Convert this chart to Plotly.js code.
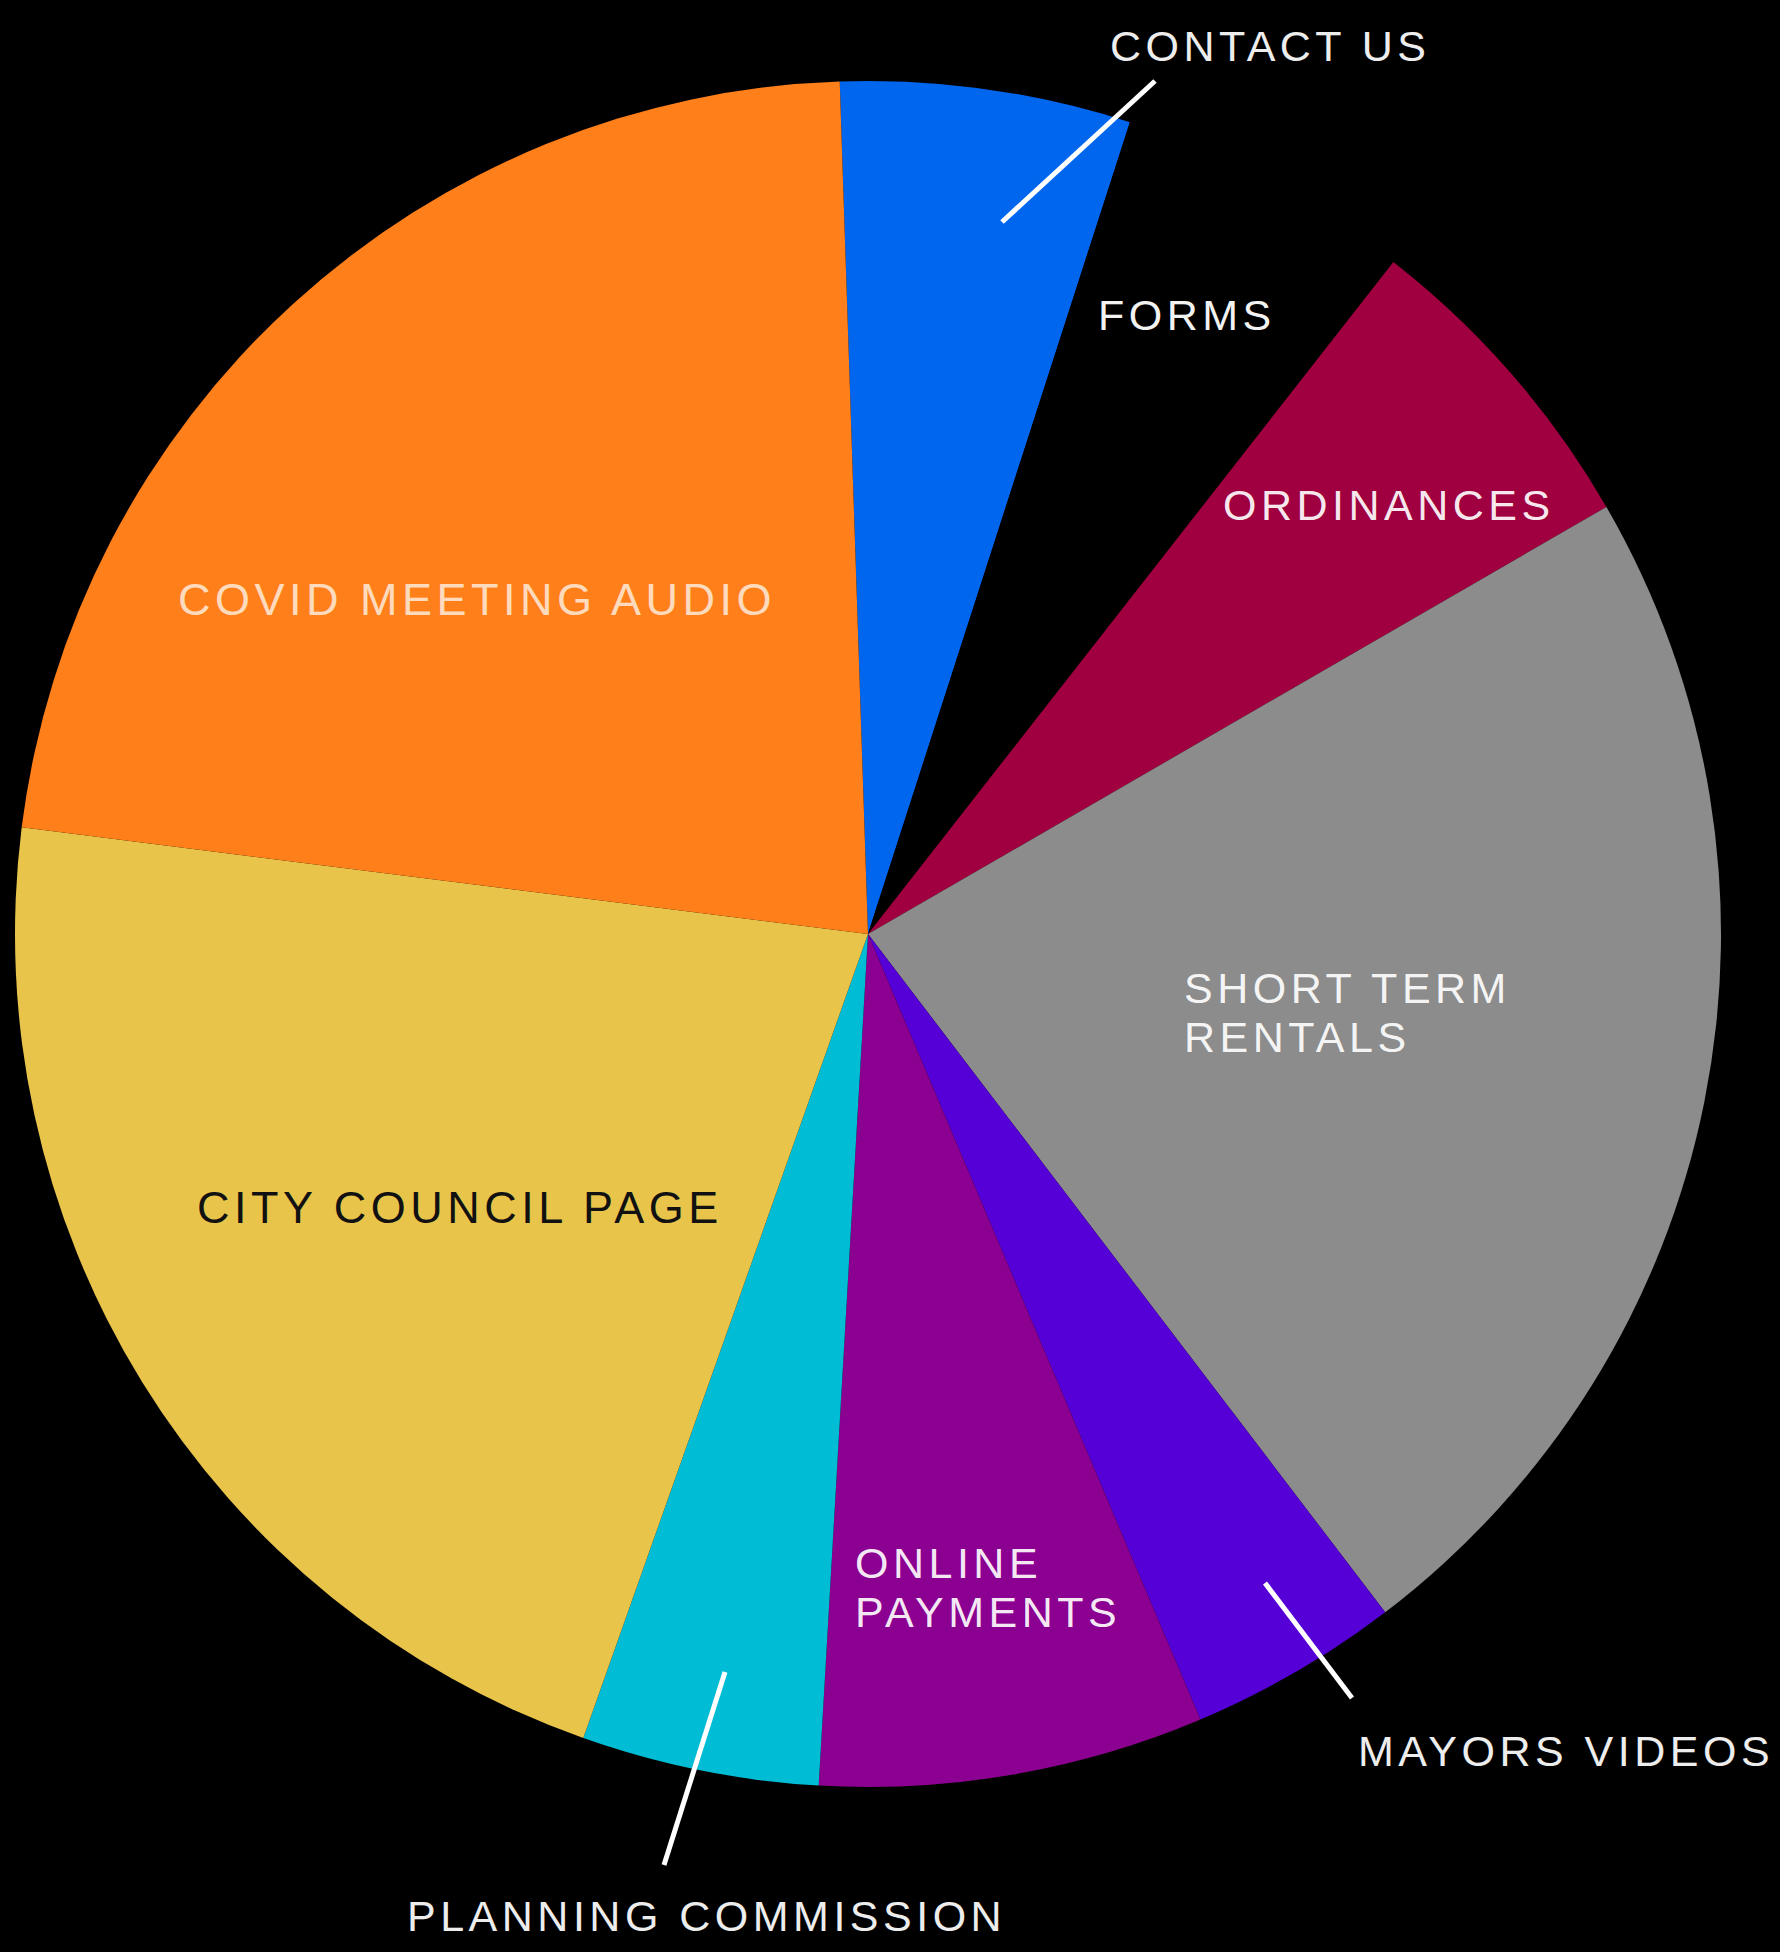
<!DOCTYPE html>
<html>
<head>
<meta charset="utf-8">
<script src="https://cdn.plot.ly/plotly-3.0.1.min.js"></script>
<style>
  html, body { margin: 0; padding: 0; background: #000; }
  #chart { width: 1780px; height: 1952px; }
  text.annotation-text { letter-spacing: 4.5px; }
</style>
</head>
<body>
<div id="chart"></div>
<script>
// ---- data ----
const categories = ['CONTACT US', 'FORMS', 'ORDINANCES', 'SHORT TERM RENTALS', 'MAYORS VIDEOS',
                    'ONLINE PAYMENTS', 'PLANNING COMMISSION', 'CITY COUNCIL PAGE', 'COVID MEETING AUDIO'];
const values = [55, 56, 61, 230, 40, 73, 45, 216, 225];

// ---- styles ----
const sliceColors = ['#0066EE', '#000000', '#A0003F', '#8C8C8C', '#5500D7',
                     '#8C0091', '#00BCD4', '#E8C54A', '#FF7F1A'];
const labelColors = ['#EDEDED', '#F2F2F2', 'rgba(255,255,255,0.93)', 'rgba(255,255,255,0.93)', '#EDEDED',
                     'rgba(255,255,255,0.93)', '#EDEDED', '#111111', 'rgba(255,255,255,0.72)'];
const labelSizes = [43, 43, 43, 43, 43, 43, 43, 45, 45];

// ---- label layout (pixels in the 1780x1952 page) ----
const W = 1780, H = 1952;
const labelLines = [['CONTACT US'], ['FORMS'], ['ORDINANCES'], ['SHORT TERM', 'RENTALS'], ['MAYORS VIDEOS'],
                    ['ONLINE', 'PAYMENTS'], ['PLANNING COMMISSION'], ['CITY COUNCIL PAGE'], ['COVID MEETING AUDIO']];
const labelLeft = [1108, 1096, 1221, 1182, 1356, 853, 405, 195, 176];
const labelTop = [46, 315, 505, 988, 1751, 1563, 1916, 1207, 600];
const lineGap = 49;
// leader lines: [x0, y0, x1, y1] in pixels
const leaders = [[1002, 222, 1155, 81], [1265, 1583, 1352, 1698], [725, 1672, 664, 1865]];

const px = x => x / W;
const py = y => 1 - y / H;

const annotations = [];
labelLines.forEach((lines, i) => {
  lines.forEach((t, k) => {
    annotations.push({
      xref: 'paper', yref: 'paper',
      x: px(labelLeft[i]), y: py(labelTop[i] + k * lineGap),
      xanchor: 'left', yanchor: 'middle',
      text: t, showarrow: false,
      font: { family: 'Liberation Sans, Arial, sans-serif', size: labelSizes[i], color: labelColors[i] }
    });
  });
});

const shapes = leaders.map(l => ({
  type: 'line', xref: 'paper', yref: 'paper',
  x0: px(l[0]), y0: py(l[1]), x1: px(l[2]), y1: py(l[3]),
  line: { color: '#FFFFFF', width: 5 }
}));

const data = [{
  type: 'pie',
  labels: categories,
  values: values,
  sort: false,
  direction: 'clockwise',
  rotation: -1.9,
  marker: { colors: sliceColors, line: { width: 0 } },
  textinfo: 'none',
  hoverinfo: 'none',
  showlegend: false,
  domain: { x: [15 / W, 1721 / W], y: [1 - 1787 / H, 1 - 81 / H] }
}];

const layout = {
  width: W, height: H,
  margin: { l: 0, r: 0, t: 0, b: 0 },
  paper_bgcolor: '#000000',
  plot_bgcolor: '#000000',
  showlegend: false,
  annotations: annotations,
  shapes: shapes
};

Plotly.newPlot('chart', data, layout, { staticPlot: true });
</script>
</body>
</html>
